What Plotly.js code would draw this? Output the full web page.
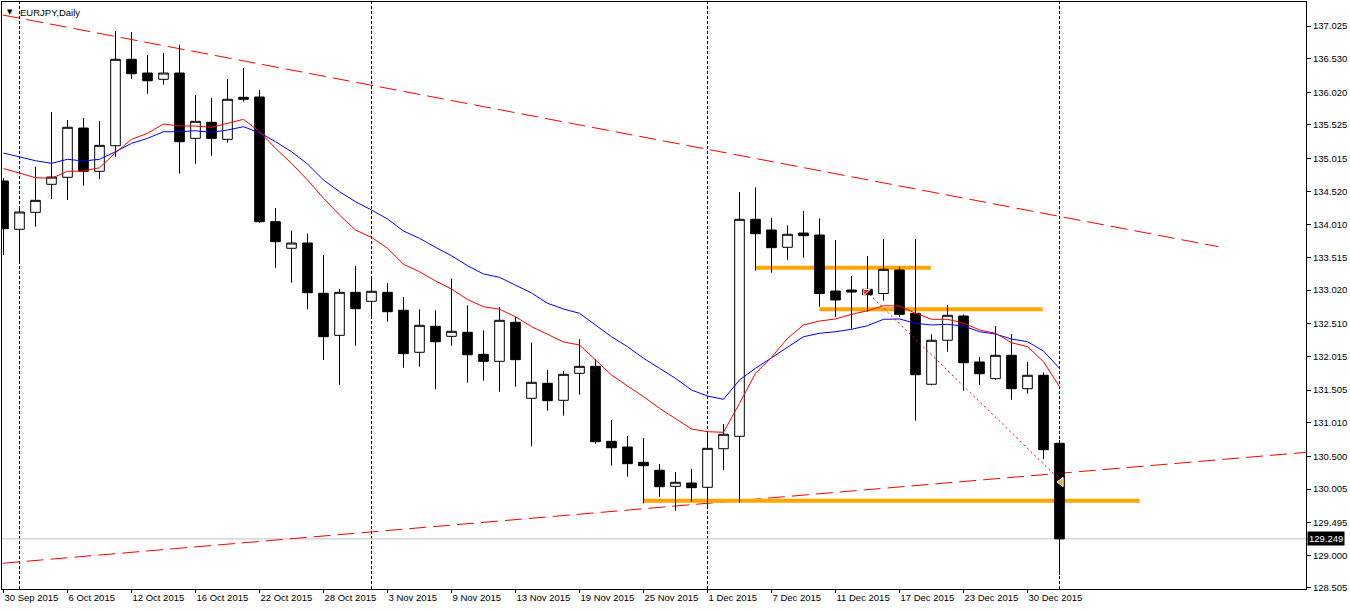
<!DOCTYPE html>
<html>
<head>
<meta charset="utf-8">
<script src="https://cdn.plot.ly/plotly-3.0.1.min.js"></script>
<style>
html,body{margin:0;padding:0;background:#ffffff;}
#chart{width:1350px;height:611px;}
</style>
</head>
<body>
<div id="chart"></div>
<script>
// ---- data (EURJPY, Daily) ----
const dates = [
"30 Sep 2015","1 Oct 2015","2 Oct 2015","5 Oct 2015","6 Oct 2015","7 Oct 2015","8 Oct 2015","9 Oct 2015",
"12 Oct 2015","13 Oct 2015","14 Oct 2015","15 Oct 2015","16 Oct 2015","19 Oct 2015","20 Oct 2015","21 Oct 2015",
"22 Oct 2015","23 Oct 2015","26 Oct 2015","27 Oct 2015","28 Oct 2015","29 Oct 2015","30 Oct 2015","2 Nov 2015",
"3 Nov 2015","4 Nov 2015","5 Nov 2015","6 Nov 2015","9 Nov 2015","10 Nov 2015","11 Nov 2015","12 Nov 2015",
"13 Nov 2015","16 Nov 2015","17 Nov 2015","18 Nov 2015","19 Nov 2015","20 Nov 2015","23 Nov 2015","24 Nov 2015",
"25 Nov 2015","26 Nov 2015","27 Nov 2015","30 Nov 2015","1 Dec 2015","2 Dec 2015","3 Dec 2015","4 Dec 2015",
"7 Dec 2015","8 Dec 2015","9 Dec 2015","10 Dec 2015","11 Dec 2015","14 Dec 2015","15 Dec 2015","16 Dec 2015",
"17 Dec 2015","18 Dec 2015","21 Dec 2015","22 Dec 2015","23 Dec 2015","24 Dec 2015","28 Dec 2015","29 Dec 2015",
"30 Dec 2015","31 Dec 2015","4 Jan 2016"];

const openP = [
134.675,133.943,134.200,134.625,134.731,135.478,134.822,135.210,
136.520,136.312,136.217,136.312,135.322,135.565,135.307,135.944,
135.948,134.058,133.655,133.735,132.972,132.335,132.987,132.851,
132.987,132.715,132.078,132.472,132.320,132.381,132.047,131.941,
132.533,131.380,131.608,131.350,131.759,131.865,130.728,130.642,
130.410,130.289,130.046,130.096,130.031,130.616,130.804,134.094,
133.932,133.670,133.886,133.856,133.007,133.022,133.033,132.969,
133.326,132.669,131.593,132.260,132.628,131.931,131.678,132.032,
131.526,131.729,130.698];

const highP = [
134.720,134.266,134.892,135.721,135.600,135.630,135.585,136.949,
136.934,136.585,136.615,136.741,135.979,135.933,136.221,136.388,
136.055,134.266,133.921,133.876,133.553,133.037,133.386,133.215,
133.128,132.916,132.730,132.715,133.194,132.790,132.411,132.760,
132.617,132.223,131.809,131.794,132.279,131.972,131.051,130.809,
130.778,130.384,130.263,130.308,130.839,130.991,134.508,134.579,
134.114,134.003,134.220,134.109,133.780,133.235,133.538,133.795,
133.376,133.795,132.351,132.795,132.650,132.006,132.477,132.355,
131.931,131.775,130.748];

const lowP = [
133.553,133.436,133.982,134.402,134.387,134.604,134.705,135.043,
136.226,135.998,136.135,134.786,134.937,135.058,135.256,135.877,
134.043,133.360,133.133,132.730,131.961,131.586,132.178,132.628,
132.542,131.844,131.859,131.517,132.178,131.617,131.647,131.480,
131.556,130.653,131.192,131.117,131.435,130.692,130.358,130.192,
129.788,129.889,129.676,129.813,129.707,130.293,129.798,133.315,
133.285,133.482,133.512,132.769,132.617,132.436,132.693,132.860,
132.613,131.041,131.577,132.087,131.496,131.582,131.662,131.359,
131.450,130.460,128.701];

const closeP = [
133.952,134.205,134.382,134.735,135.489,134.822,135.216,136.520,
136.302,136.195,136.312,135.271,135.580,135.322,135.914,135.914,
134.058,133.755,133.735,132.981,132.314,132.987,132.739,133.003,
132.693,132.057,132.487,132.238,132.396,132.041,131.941,132.563,
131.966,131.623,131.344,131.744,131.865,130.722,130.631,130.389,
130.358,130.040,130.107,130.025,130.622,130.835,134.094,133.876,
133.664,133.867,133.846,132.969,132.871,132.992,132.951,133.336,
132.654,131.738,132.260,132.639,131.920,131.753,132.032,131.526,
131.729,130.601,129.249];

// moving averages (red = fast, blue = slow)
const maRed = [
134.864,134.792,134.725,134.716,134.822,134.826,134.876,135.104,
135.307,135.398,135.539,135.509,135.509,135.489,135.550,135.610,
135.422,135.171,134.943,134.690,134.413,134.159,133.932,133.821,
133.655,133.412,133.300,133.159,133.037,132.878,132.769,132.730,
132.617,132.466,132.351,132.234,132.189,131.961,131.734,131.567,
131.405,131.229,131.077,130.915,130.874,130.865,131.304,131.759,
132.002,132.290,132.492,132.552,132.583,132.654,132.708,132.784,
132.780,132.669,132.578,132.578,132.522,132.416,132.366,132.223,
132.163,131.935,131.556];

const maBlue = [
135.099,135.043,134.983,134.943,135.004,134.978,135.004,135.119,
135.246,135.322,135.422,135.422,135.437,135.413,135.448,135.498,
135.407,135.271,135.119,134.933,134.690,134.513,134.361,134.235,
134.099,133.917,133.806,133.670,133.542,133.391,133.265,133.215,
133.098,132.977,132.821,132.734,132.669,132.492,132.314,132.163,
131.987,131.835,131.683,131.506,131.415,131.365,131.658,131.835,
131.996,132.163,132.314,132.366,132.390,132.427,132.481,132.578,
132.583,132.517,132.492,132.502,132.476,132.390,132.355,132.279,
132.238,132.097,131.835];

const xLabels = ["30 Sep 2015","6 Oct 2015","12 Oct 2015","16 Oct 2015","22 Oct 2015","28 Oct 2015",
"3 Nov 2015","9 Nov 2015","13 Nov 2015","19 Nov 2015","25 Nov 2015","1 Dec 2015","7 Dec 2015",
"11 Dec 2015","17 Dec 2015","23 Dec 2015","30 Dec 2015"];

const yTicks = [137.025,136.530,136.020,135.525,135.015,134.520,134.010,133.515,133.020,
132.510,132.015,131.505,131.010,130.500,130.005,129.495,129.000,128.505];

const monthStarts = ["1 Oct 2015","2 Nov 2015","1 Dec 2015","4 Jan 2016"];
const lastPrice = 129.249;

// drawn objects (bar index, price)
const upperTrendX = [-0.05, 75.93];
const upperTrendY = [137.192, 133.679];
const lowerTrendX = [-0.05, 81.45];
const lowerTrendY = [128.879, 130.562];
const projX = [53.9, 65.84];
const projY = [133.007, 130.187];
const levelPrice = [133.360, 132.730, 129.828];
const levelFrom  = [47, 51, 40];
const levelTo    = [57.95, 64.95, 71];
const arrowMark = {x: 66.1, y: 130.111};
const cursorMark = {x: 53.9, y: 133.0};

// ---- build ----
const idx = dates.map((d, i) => i);
const FONT = "Liberation Sans, Arial, sans-serif";
const FS = 9.5;

const traces = [
  {
    type: "candlestick",
    x: idx, open: openP, high: highP, low: lowP, close: closeP,
    increasing: {line: {color: "#000000", width: 1}, fillcolor: "#ffffff"},
    decreasing: {line: {color: "#000000", width: 1}, fillcolor: "#000000"},
    whiskerwidth: 0,
    hoverinfo: "skip",
    showlegend: false
  },
  {type: "scatter", mode: "lines", x: idx, y: maBlue, line: {color: "#0000ff", width: 1}, hoverinfo: "skip"},
  {type: "scatter", mode: "lines", x: idx, y: maRed, line: {color: "#ff0000", width: 1}, hoverinfo: "skip"},
  {type: "scatter", mode: "lines", x: projX, y: projY, line: {color: "#ff0000", width: 1, dash: "2px,3px"}, hoverinfo: "skip"},
  {type: "scatter", mode: "markers", x: [arrowMark.x], y: [arrowMark.y],
    marker: {symbol: "triangle-left", size: 8, color: "#e8a33c", line: {color: "#ffffff", width: 1}}, hoverinfo: "skip"},
  {type: "scatter", mode: "markers", x: [cursorMark.x], y: [cursorMark.y],
    marker: {symbol: "triangle-nw", size: 7, color: "#ff0000", line: {color: "#ffffff", width: 1}}, hoverinfo: "skip"}
];

const shapes = [];
// month separators
monthStarts.forEach(m => {
  const i = dates.indexOf(m);
  shapes.push({type: "line", xref: "x", yref: "paper", x0: i, x1: i, y0: 0, y1: 1,
    line: {color: "#000000", width: 1, dash: "3px,2px"}, layer: "below"});
});
// trend lines
shapes.push({type: "line", xref: "x", yref: "y", x0: upperTrendX[0], x1: upperTrendX[1], y0: upperTrendY[0], y1: upperTrendY[1],
  line: {color: "#ff0000", width: 1, dash: "17px,7px"}, layer: "below"});
shapes.push({type: "line", xref: "x", yref: "y", x0: lowerTrendX[0], x1: lowerTrendX[1], y0: lowerTrendY[0], y1: lowerTrendY[1],
  line: {color: "#ff0000", width: 1, dash: "17px,7px"}, layer: "below"});
// orange levels
levelPrice.forEach((p, k) => {
  shapes.push({type: "line", xref: "x", yref: "y", x0: levelFrom[k], x1: levelTo[k], y0: p, y1: p,
    line: {color: "#ffa500", width: 4}, layer: "below"});
});
// current price line
shapes.push({type: "line", xref: "paper", yref: "y", x0: 0, x1: 1, y0: lastPrice, y1: lastPrice,
  line: {color: "#c0c0c0", width: 1}, layer: "below"});

const layout = {
  width: 1350, height: 611,
  margin: {l: 2, r: 44, t: 2, b: 22, pad: 0},
  paper_bgcolor: "#ffffff", plot_bgcolor: "#ffffff",
  showlegend: false,
  boxgap: 0.4, boxgroupgap: 0,
  font: {family: FONT, size: FS, color: "#000000"},
  xaxis: {
    range: [-0.09375, 81.40625],
    tickmode: "array",
    tickvals: xLabels.map(l => dates.indexOf(l)),
    ticktext: xLabels,
    tickangle: 0,
    automargin: false,
    ticks: "outside", ticklen: 3, tickcolor: "#000000", tickwidth: 1,
    ticklabelposition: "outside right",
    tickfont: {family: FONT, size: FS, color: "#000000"},
    showline: true, linecolor: "#000000", linewidth: 1, mirror: true,
    showgrid: false, zeroline: false,
    rangeslider: {visible: false},
    fixedrange: true
  },
  yaxis: {
    side: "right",
    range: [128.489, 137.389],
    tickmode: "array",
    tickvals: yTicks,
    ticktext: yTicks.map(v => v.toFixed(3)),
    automargin: false,
    ticks: "outside", ticklen: 4, tickcolor: "#000000", tickwidth: 1,
    tickfont: {family: FONT, size: FS, color: "#000000"},
    showline: true, linecolor: "#000000", linewidth: 1, mirror: true,
    showgrid: false, zeroline: false,
    fixedrange: true
  },
  shapes: shapes,
  annotations: [
    {xref: "paper", yref: "paper", x: 0.0125, y: 1, xanchor: "left", yanchor: "top", yshift: -3,
      text: "EURJPY,Daily", showarrow: false, font: {family: FONT, size: FS, color: "#000000"}},
    {xref: "paper", yref: "paper", x: 0.0025, y: 1, xanchor: "left", yanchor: "top", yshift: -4,
      text: "▼", showarrow: false, font: {family: "DejaVu Sans", size: 7, color: "#000000"}},
    {xref: "paper", yref: "y", x: 1, y: lastPrice, xanchor: "left", yanchor: "middle", xshift: 1,
      text: lastPrice.toFixed(3), showarrow: false, bgcolor: "#000000", borderpad: 1,
      font: {family: FONT, size: FS, color: "#ffffff"}}
  ]
};

Plotly.newPlot("chart", traces, layout, {displayModeBar: false, staticPlot: true});
</script>
</body>
</html>
